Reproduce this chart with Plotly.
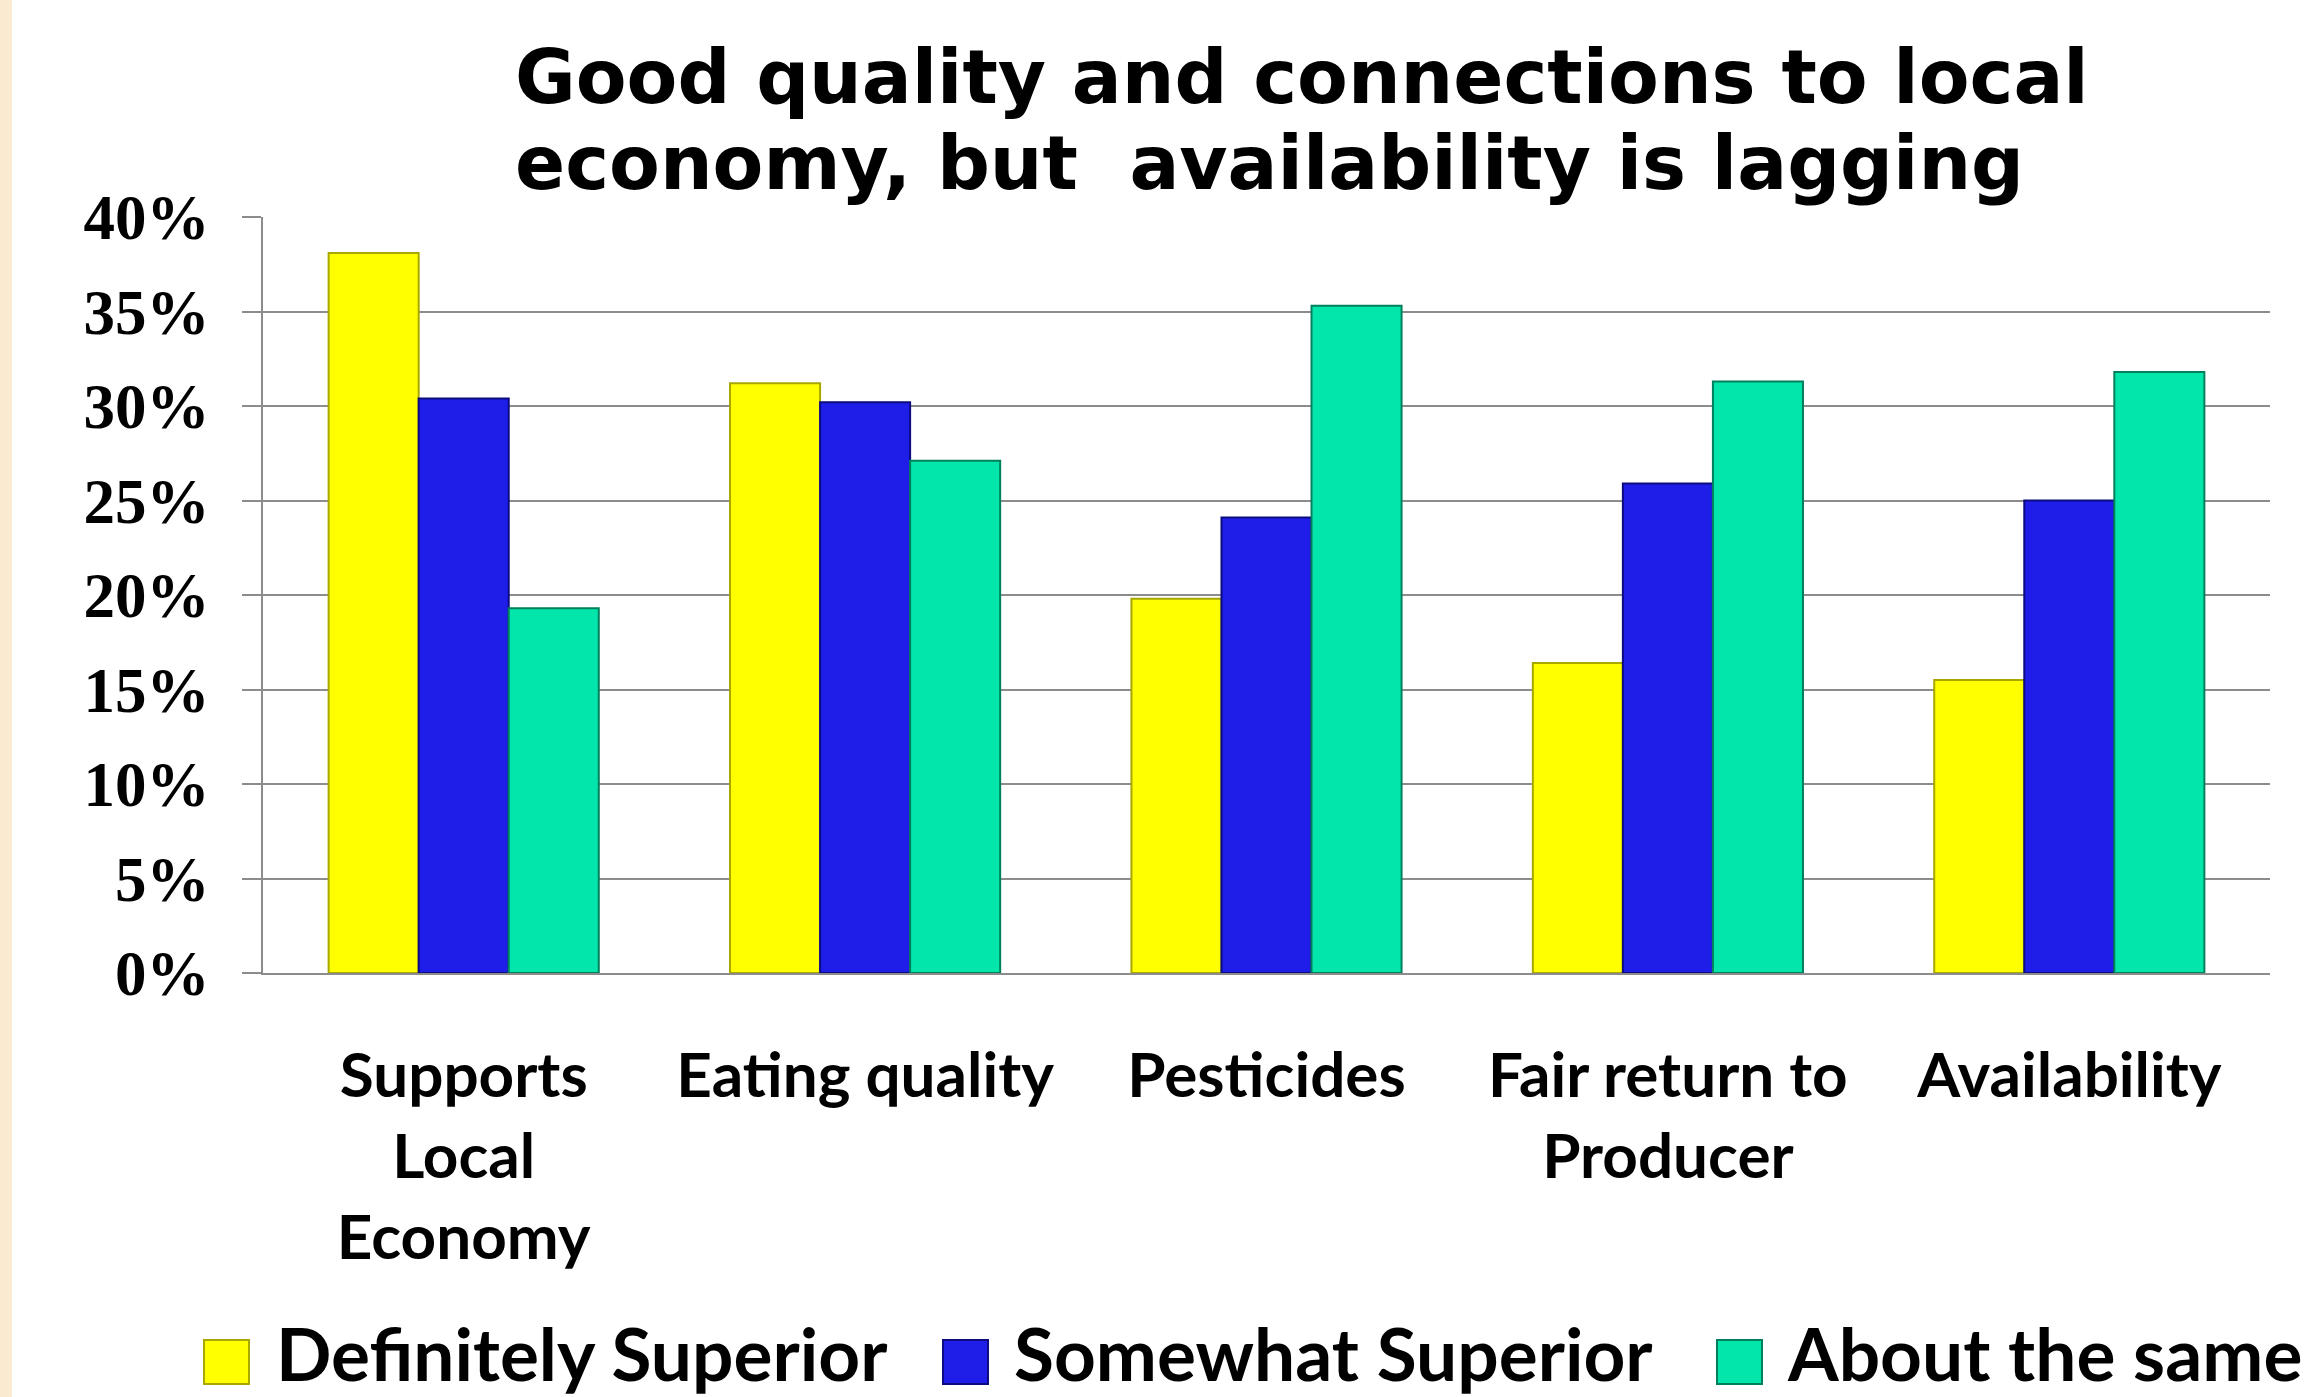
import plotly.graph_objects as go

categories = ["Supports<br>Local<br>Economy", "Eating quality", "Pesticides", "Fair return to<br>Producer", "Availability"]
series_names = ["Definitely Superior", "Somewhat Superior", "About the same"]
definitely_superior = [38.1, 31.2, 19.8, 16.4, 15.5]
somewhat_superior = [30.4, 30.2, 24.1, 25.9, 25.0]
about_the_same = [19.3, 27.1, 35.3, 31.3, 31.8]
tick_vals = [0, 5, 10, 15, 20, 25, 30, 35, 40]
tick_text = ["0%", "5%", "10%", "15%", "20%", "25%", "30%", "35%", "40%"]

W, H = 2321, 1397
L, R, T, B = 263, 51, 217, 424
PW, PH = W - L - R, H - T - B

def px_x(x):
    return (x - L) / PW

def px_y(y):
    return 1 + (T - y) / PH

fills = ["#FFFF00", "#1E1EE8", "#02E6AC"]
lines = ["#A8A800", "#0C0C80", "#00805C"]

fig = go.Figure()
for name, vals, fc, lc in zip(series_names, [definitely_superior, somewhat_superior, about_the_same], fills, lines):
    fig.add_trace(go.Bar(x=categories, y=vals, name=name,
                         marker=dict(color=fc, line=dict(color=lc, width=2)),
                         showlegend=False))

shapes = [dict(type="rect", xref="paper", yref="paper", x0=px_x(0), x1=px_x(12), y0=px_y(H), y1=px_y(0),
               fillcolor="#FAEAD0", line=dict(width=0), layer="below")]
annotations = [
    dict(text="Good quality and connections to local", xref="paper", yref="paper",
         x=px_x(513), y=px_y(77), xanchor="left", yanchor="middle", showarrow=False,
         font=dict(family="DejaVu Sans", size=74, color="black", weight="bold")),
    dict(text="economy, but  availability is lagging", xref="paper", yref="paper",
         x=px_x(513), y=px_y(163), xanchor="left", yanchor="middle", showarrow=False,
         font=dict(family="DejaVu Sans", size=74, color="black", weight="bold")),
]
legend_pos = [(204, 274), (943, 1012), (1717, 1785)]
for name, fc, lc, (sx, tx) in zip(series_names, fills, lines, legend_pos):
    shapes.append(dict(type="rect", xref="paper", yref="paper",
                       x0=px_x(sx), x1=px_x(sx + 45), y0=px_y(1384), y1=px_y(1340),
                       fillcolor=fc, line=dict(color=lc, width=2)))
    annotations.append(dict(text=name, xref="paper", yref="paper", x=px_x(tx), y=px_y(1353),
                            xanchor="left", yanchor="middle", showarrow=False,
                            font=dict(family="Lato", size=73, color="black", weight="bold")))

fig.update_layout(
    width=W, height=H,
    margin=dict(l=L, r=R, t=T, b=B, autoexpand=False),
    paper_bgcolor="white", plot_bgcolor="white",
    barmode="group", bargap=0.327, bargroupgap=0,
    shapes=shapes, annotations=annotations,
    xaxis=dict(showline=True, linecolor="#8C8C8C", linewidth=2, ticks="",
               tickfont=dict(family="Lato", size=62, color="black", weight="bold"),
               ticklabelstandoff=48),
    yaxis=dict(range=[0, 40], tickvals=tick_vals, ticktext=tick_text,
               showgrid=True, gridcolor="#8C8C8C", gridwidth=2,
               showline=True, linecolor="#8C8C8C", linewidth=2,
               ticks="outside", ticklen=19, tickcolor="#8C8C8C", tickwidth=2,
               zeroline=False, ticklabelstandoff=20,
               tickfont=dict(family="Liberation Serif", size=63, color="black", weight="bold")),
)

fig.write_html("out.html", config={"displayModeBar": False},
               post_script="document.body.style.margin='0';document.body.style.overflow='hidden';")
